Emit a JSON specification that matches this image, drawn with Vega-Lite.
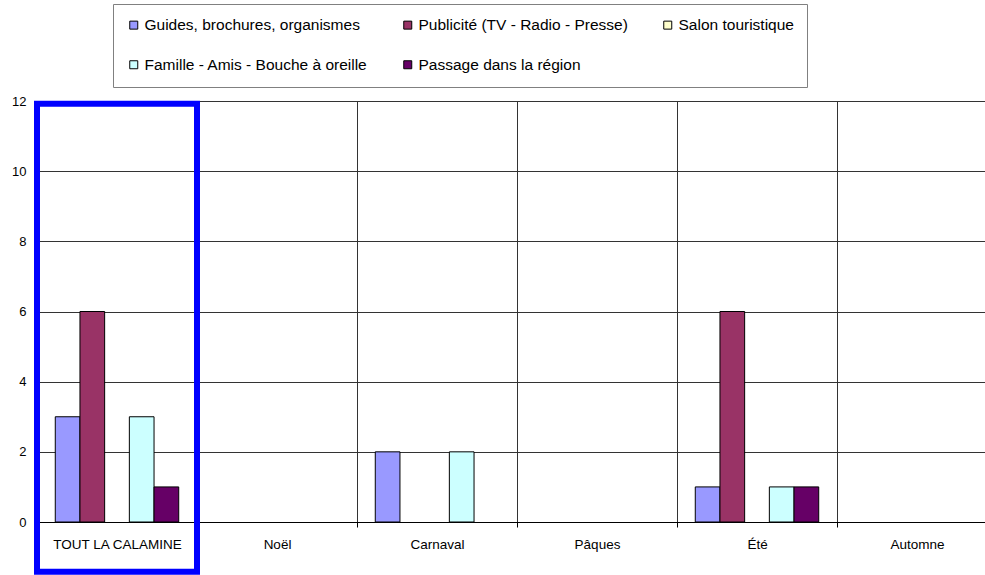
{
  "$schema": "https://vega.github.io/schema/vega-lite/v6.json",
  "width": 960,
  "height": 421,
  "autosize": {"type": "none"},
  "padding": {"left": 37, "top": 101, "right": -12, "bottom": 53},
  "background": "white",
  "config": {"font": "Liberation Sans", "view": {"stroke": null}},
  "datasets": {
    "bars": [
      {"periode": "TOUT LA CALAMINE", "source": "Guides, brochures, organismes", "valeur": 3},
      {"periode": "TOUT LA CALAMINE", "source": "Publicité (TV - Radio - Presse)", "valeur": 6},
      {"periode": "TOUT LA CALAMINE", "source": "Salon touristique", "valeur": 0},
      {"periode": "TOUT LA CALAMINE", "source": "Famille - Amis - Bouche à oreille", "valeur": 3},
      {"periode": "TOUT LA CALAMINE", "source": "Passage dans la région", "valeur": 1},
      {"periode": "Noël", "source": "Guides, brochures, organismes", "valeur": 0},
      {"periode": "Noël", "source": "Publicité (TV - Radio - Presse)", "valeur": 0},
      {"periode": "Noël", "source": "Salon touristique", "valeur": 0},
      {"periode": "Noël", "source": "Famille - Amis - Bouche à oreille", "valeur": 0},
      {"periode": "Noël", "source": "Passage dans la région", "valeur": 0},
      {"periode": "Carnaval", "source": "Guides, brochures, organismes", "valeur": 2},
      {"periode": "Carnaval", "source": "Publicité (TV - Radio - Presse)", "valeur": 0},
      {"periode": "Carnaval", "source": "Salon touristique", "valeur": 0},
      {"periode": "Carnaval", "source": "Famille - Amis - Bouche à oreille", "valeur": 2},
      {"periode": "Carnaval", "source": "Passage dans la région", "valeur": 0},
      {"periode": "Pâques", "source": "Guides, brochures, organismes", "valeur": 0},
      {"periode": "Pâques", "source": "Publicité (TV - Radio - Presse)", "valeur": 0},
      {"periode": "Pâques", "source": "Salon touristique", "valeur": 0},
      {"periode": "Pâques", "source": "Famille - Amis - Bouche à oreille", "valeur": 0},
      {"periode": "Pâques", "source": "Passage dans la région", "valeur": 0},
      {"periode": "Été", "source": "Guides, brochures, organismes", "valeur": 1},
      {"periode": "Été", "source": "Publicité (TV - Radio - Presse)", "valeur": 6},
      {"periode": "Été", "source": "Salon touristique", "valeur": 0},
      {"periode": "Été", "source": "Famille - Amis - Bouche à oreille", "valeur": 1},
      {"periode": "Été", "source": "Passage dans la région", "valeur": 1},
      {"periode": "Automne", "source": "Guides, brochures, organismes", "valeur": 0},
      {"periode": "Automne", "source": "Publicité (TV - Radio - Presse)", "valeur": 0},
      {"periode": "Automne", "source": "Salon touristique", "valeur": 0},
      {"periode": "Automne", "source": "Famille - Amis - Bouche à oreille", "valeur": 0},
      {"periode": "Automne", "source": "Passage dans la région", "valeur": 0}
    ],
    "highlight": [{"periode": "TOUT LA CALAMINE"}]
  },
  "layer": [
    {
      "data": {"name": "bars"},
      "transform": [{"filter": "datum.valeur > 0"}],
      "mark": {"type": "bar", "stroke": "black", "strokeWidth": 1},
      "encoding": {
        "x": {
          "field": "periode", "type": "nominal",
          "scale": {"domain": ["TOUT LA CALAMINE", "Noël", "Carnaval", "Pâques", "Été", "Automne"], "paddingInner": 0, "paddingOuter": 0},
          "axis": {"title": null, "labelAngle": 0, "tickBand": "extent", "grid": true, "gridColor": "#333333", "domainColor": "black", "tickColor": "black", "tickSize": 5, "labelFontSize": 13.5, "labelColor": "black", "labelPadding": 10}
        },
        "xOffset": {
          "field": "source", "type": "nominal",
          "scale": {"domain": ["Guides, brochures, organismes", "Publicité (TV - Radio - Presse)", "Salon touristique", "Famille - Amis - Bouche à oreille", "Passage dans la région"], "paddingInner": 0, "paddingOuter": 0.74}
        },
        "y": {
          "field": "valeur", "type": "quantitative",
          "scale": {"domain": [0, 12], "nice": false},
          "axis": {"title": null, "values": [0, 2, 4, 6, 8, 10, 12], "grid": true, "gridColor": "#333333", "domainColor": "black", "ticks": false, "labelFontSize": 13, "labelColor": "black", "labelPadding": 11}
        },
        "color": {
          "field": "source", "type": "nominal",
          "scale": {"domain": ["Guides, brochures, organismes", "Publicité (TV - Radio - Presse)", "Salon touristique", "Famille - Amis - Bouche à oreille", "Passage dans la région"], "range": ["#9999FF", "#993366", "#FFFFCC", "#CCFFFF", "#660066"]},
          "legend": {"title": null, "orient": "none", "legendX": 76, "legendY": -97, "direction": "horizontal", "columns": 3, "gridAlign": "each", "columnPadding": 32, "rowPadding": 23, "padding": 13, "strokeColor": "#808080", "symbolType": "square", "symbolSize": 64, "symbolStrokeColor": "black", "symbolStrokeWidth": 1, "symbolOpacity": 1, "labelFontSize": 15.5, "labelLimit": 400, "labelColor": "black", "labelOffset": 3}
        }
      }
    },
    {
      "data": {"name": "highlight"},
      "mark": {"type": "rect", "fill": "transparent", "stroke": "#0000FF", "strokeWidth": 6, "clip": false},
      "encoding": {
        "x": {"field": "periode", "type": "nominal"},
        "y": {"datum": -1.42},
        "y2": {"datum": 11.92}
      }
    }
  ]
}
